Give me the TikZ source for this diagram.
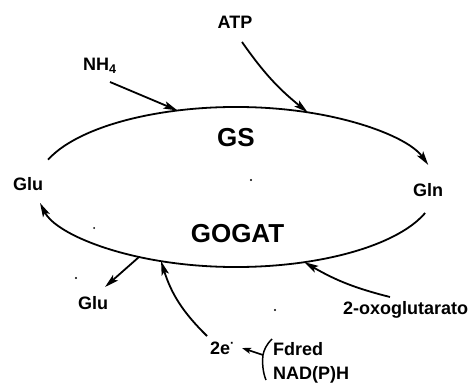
\documentclass[tikz,border=0pt]{standalone}
\usepackage{fontspec}
\setmainfont{Liberation Sans}
\usetikzlibrary{arrows.meta,calc}
\begin{document}
\begin{tikzpicture}[x=1pt,y=1pt,
  lbl/.style={font=\fontsize{18}{20}\selectfont\bfseries, inner sep=0pt},
  big/.style={font=\fontsize{26}{28}\selectfont\bfseries, inner sep=0pt},
  arr/.style={line width=1.8pt, -{Stealth[length=14pt,width=7.5pt,inset=3pt]}},
  arrs/.style={line width=1.6pt, -{Stealth[length=9pt,width=6pt,inset=2pt]}},
  speck/.style={fill=black},
]
\useasboundingbox (0,0) rectangle (473,383);
% ellipse of the cycle
\coordinate (ctr) at (236,196);
\coordinate (u0) at ($(ctr)+(160:200pt and 80pt)$);
\coordinate (l0) at ($(ctr)+(-19:200pt and 80pt)$);
\coordinate (pNH) at ($(ctr)+(107:200pt and 80pt)$);
\coordinate (pATP) at ($(ctr)+(69:200pt and 80pt)$);
\coordinate (pOXO) at ($(ctr)+(-70:200pt and 80pt)$);
\coordinate (pE) at ($(ctr)+(-112:200pt and 80pt)$);
\coordinate (pGlu) at ($(ctr)+(-119:200pt and 80pt)$);

% labels
\node[lbl] (atp) at (235,361) {ATP};
\node[lbl, anchor=base west] (nh) at (83,312) {NH\textsubscript{4}};
\node[lbl] (gluL) at (28,199) {Glu};
\node[lbl] (gln) at (428,193) {Gln};
\node[big] (gs) at (236,245.5) {GS};
\node[big] (gogat) at (237.5,149) {GOGAT};
\node[lbl] (gluB) at (93,80) {Glu};
\node[lbl, anchor=base west] (e2) at (210,29) {2e\textsuperscript{·}};
\node[lbl, anchor=base west] (oxo) at (343,69) {2-oxoglutarato};
\node[lbl, anchor=base west] (fd) at (273,28) {Fdred};
\node[lbl, anchor=base west] (nad) at (273,4) {NAD(P)H};

% free ends
\coordinate (nhs) at (110,301);
\coordinate (atps) at (242,341);
\coordinate (oxos) at (390,86);
\coordinate (e2s) at (207,47);
\coordinate (gluT) at (105,96);
\coordinate (bk) at (263,28);
\coordinate (bt) at (272,44);
\coordinate (bb) at (266,3);
\coordinate (bh) at (242,35);

% cycle arcs
\draw[arr] (u0) arc[start angle=160, end angle=16, x radius=200pt, y radius=80pt];
\draw[arr] (l0) arc[start angle=-19, end angle=-168.5, x radius=200pt, y radius=80pt];

% inputs and outputs
\draw[arr] (nhs) -- (pNH);
\draw[arr] (atps) to[bend right=8] (pATP);
\draw[arr] (oxos) to[bend left=8] (pOXO);
\draw[arr] (e2s) to[bend left=14] (pE);
\draw[arr] (pGlu) -- (gluT);

% brace and reductant arrow
\draw[line width=1.5pt] (bt) .. controls (266,38) and (264,33) .. (bk) .. controls (262,20) and (263,10) .. (bb);
\draw[arrs] (bk) -- (bh);

% specks
\fill[speck] (251,203) circle (1.1);
\fill[speck] (275,73) circle (1.1);
\fill[speck] (76,105) circle (1.1);
\fill[speck] (94,155) circle (1);
\end{tikzpicture}
\end{document}
